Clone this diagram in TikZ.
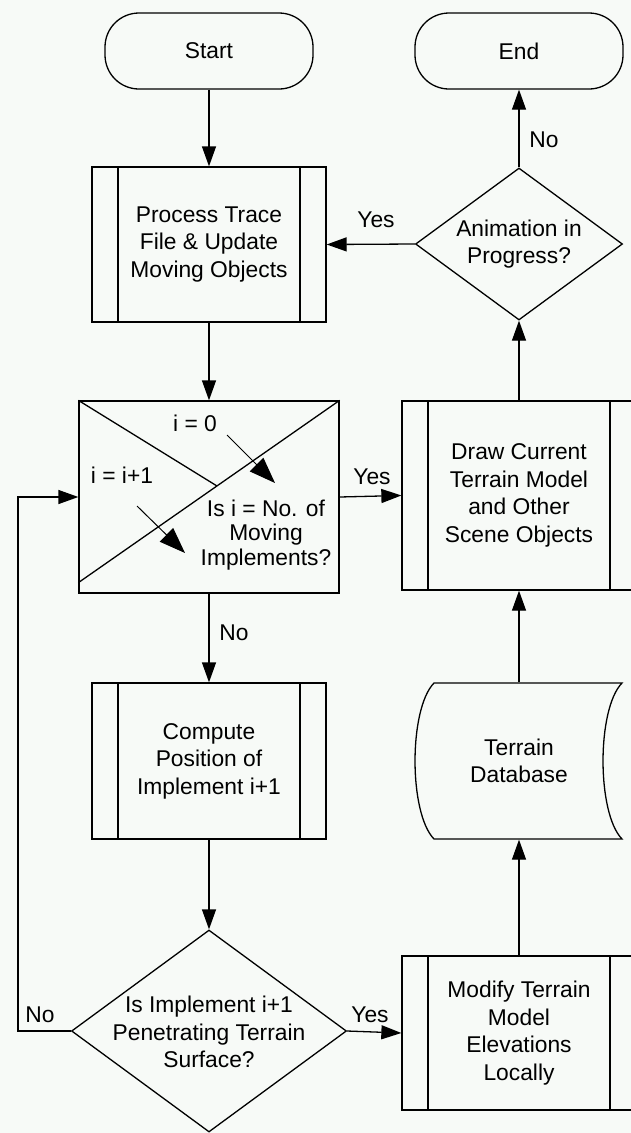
\documentclass[tikz,border=0pt]{standalone}
\usepackage{fontspec}
\setmainfont{Liberation Sans}
\usetikzlibrary{arrows.meta,shapes.geometric}
\definecolor{paper}{RGB}{247,250,247}

\begin{document}
\begin{tikzpicture}[x=1pt,y=-1pt,line width=1.3pt,
  every node/.style={font=\fontsize{22.8}{27.5}\selectfont, align=center, inner sep=0pt},
  flow/.style={-{Triangle[length=20pt,width=14pt]}},
  hint/.style={-{Triangle[length=26pt,width=19pt]}, line width=1pt},
  terminal/.style={draw, rectangle, rounded corners=34pt, minimum width=208pt, minimum height=76pt},
  predef/.style={draw, rectangle, minimum width=234pt,
    path picture={
      \draw ([xshift=26pt]path picture bounding box.north west) -- ([xshift=26pt]path picture bounding box.south west);
      \draw ([xshift=-26pt]path picture bounding box.north east) -- ([xshift=-26pt]path picture bounding box.south east);
    }},
  decision/.style={draw, diamond, inner sep=0pt}
]
% page and background
\fill[paper] (0,0) rectangle (631,1133);
\useasboundingbox (0,0) rectangle (631,1133);
\clip (0,0) rectangle (631,1133);

% ---------- left column ----------
\node[terminal] (start) at (209,51) {Start};
\node[predef, minimum height=155pt] (proc) at (209,244.5) {Process Trace\\File \& Update\\Moving Objects};

% loop control box with crossed diagonals
\node[draw, rectangle, minimum width=260pt, minimum height=192pt] (loop) at (209,497) {};
\coordinate (cross) at (217,486);
\draw (loop.north west) -- (cross);
\draw (loop.north east) -- ([yshift=11pt]loop.south west);
\node (init) at (195,423) {i = 0};
\node (incr) at (122,475) {i = i+1};
\node[font=\fontsize{22.8}{24.5}\selectfont] (ask) at (266,535) {Is i = No. of\\Moving\\Implements?};
\coordinate (h1s) at (227,435);
\coordinate (h1e) at (275,483);
\coordinate (h2s) at (137,506);
\coordinate (h2e) at (185,553);
\draw[hint] (h1s) -- (h1e);
\draw[hint] (h2s) -- (h2e);

\node[predef, minimum height=156pt] (compute) at (209,761) {Compute\\Position of\\Implement i+1};

\node[decision, minimum width=275pt, minimum height=202pt] (test) at (209,1031) {};
\node (testtxt) at (209,1032) {Is Implement i+1\\Penetrating Terrain\\Surface?};

% ---------- right column ----------
\node[terminal] (end) at (519,51) {End};

\node[decision, minimum width=207pt, minimum height=152pt] (anim) at (519,244) {};
\node (animtxt) at (519,244) {Animation in\\Progress?};

\node[predef, minimum height=189pt] (drawsc) at (519,495.5) {Draw Current\\Terrain Model\\and Other\\Scene Objects};

% stored data symbol
\draw (434,683) -- (622,683)
  .. controls (596.7,709) and (596.7,813) .. (622,839)
  -- (434,839)
  .. controls (408.7,813) and (408.7,709) .. (434,683) -- cycle;
\node[minimum width=207pt, minimum height=156pt] (terrain) at (519,761) {Terrain\\Database};

\node[predef, minimum height=154pt] (modify) at (519,1033) {Modify Terrain\\Model\\Elevations\\Locally};

% ---------- connectors ----------
\draw[flow] (start) -- (proc);
\draw[flow] (proc) -- (loop);
\draw[flow] (loop.east) -- (drawsc.west);
\draw[flow] (loop.south) -- (compute.north);
\draw[flow] (compute) -- (test);
\draw[flow] (test.east) -- (modify.west);
\coordinate (back) at (18,1031);
\draw[flow] (test.west) -- (back) |- (loop.west);
\draw[flow] (modify.north) -- (terrain.south);
\draw[flow] (terrain.north) -- (drawsc.south);
\draw[flow] (drawsc.north) -- (anim.south);
\draw[flow] (anim.north) -- (end.south);
\draw[flow] (anim.west) -- (proc.east);

% branch labels
\node (yes1) at (376,220) {Yes};
\node (yes2) at (372,477) {Yes};
\node (yes3) at (370,1015) {Yes};
\node (no1) at (544,140) {No};
\node (no2) at (234,633) {No};
\node (no3) at (40,1015) {No};
\end{tikzpicture}
\end{document}
